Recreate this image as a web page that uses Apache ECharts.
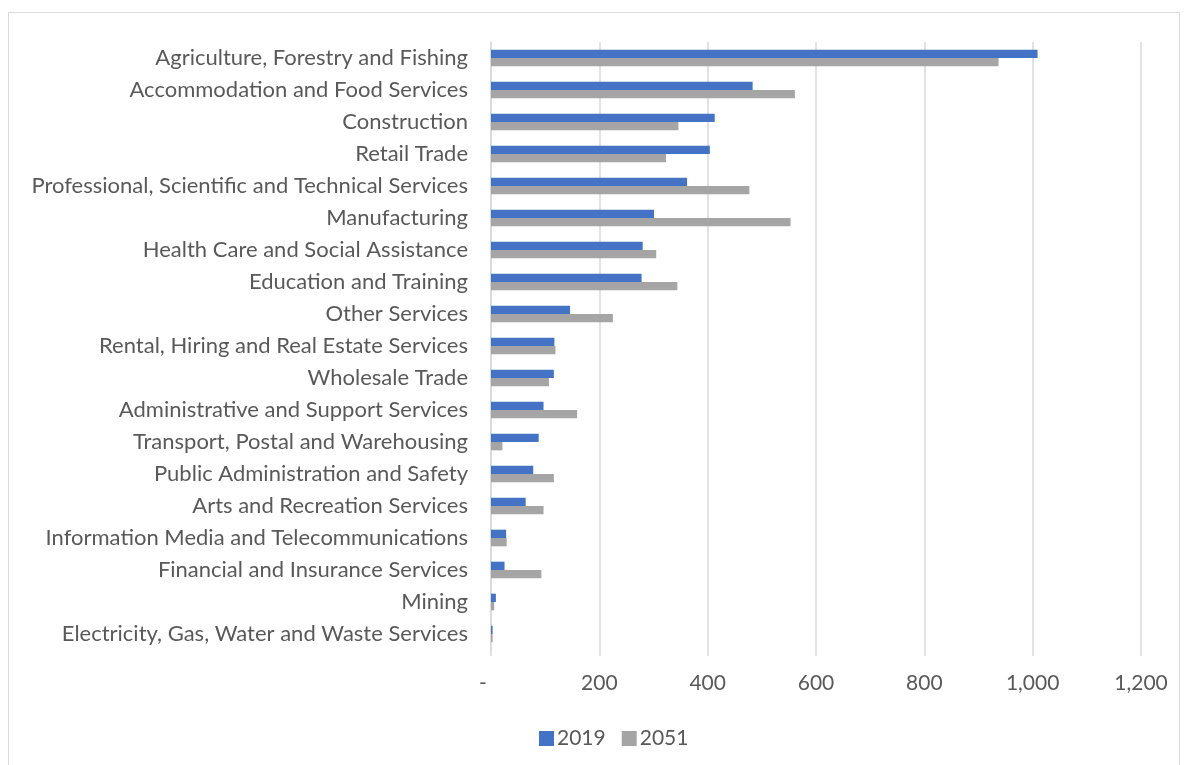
<!DOCTYPE html>
<html>
<head>
<meta charset="utf-8">
<script src="https://cdn.jsdelivr.net/npm/echarts@6/dist/echarts.min.js"></script>
<style>
  html, body { margin: 0; padding: 0; background: #fff; overflow: hidden; }
  #frame { position: absolute; left: 8px; top: 12px; width: 1172px; height: 780px; border: 1px solid #d9d9d9; box-sizing: border-box; }
  #chart { position: absolute; left: 0; top: 0; width: 1189px; height: 765px; }
</style>
</head>
<body>
<div id="frame"></div>
<div id="chart"></div>
<script>
// Industries, listed top to bottom
const industries = [
  'Agriculture, Forestry and Fishing',
  'Accommodation and Food Services',
  'Construction',
  'Retail Trade',
  'Professional, Scientific and Technical Services',
  'Manufacturing',
  'Health Care and Social Assistance',
  'Education and Training',
  'Other Services',
  'Rental, Hiring and Real Estate Services',
  'Wholesale Trade',
  'Administrative and Support Services',
  'Transport, Postal and Warehousing',
  'Public Administration and Safety',
  'Arts and Recreation Services',
  'Information Media and Telecommunications',
  'Financial and Insurance Services',
  'Mining',
  'Electricity, Gas, Water and Waste Services'
];

const values2019 = [1009, 483, 413, 404, 362, 301, 280, 278, 146, 117, 116, 97, 88, 78, 64, 28, 25, 9, 3];
const values2051 = [937, 561, 346, 323, 477, 553, 305, 344, 225, 119, 107, 159, 21, 116, 97, 29, 93, 6, 3];

const seriesNames = ['2019', '2051'];
const axisTicks = { min: 0, max: 1200, interval: 200 };

const FONT = 'Lato, "Open Sans", sans-serif';
const TEXT = '#595959';
const GRID = '#d9d9d9';

// accounting-style tick labels: zero shown as a dash
function fmtTick(v) {
  if (v === 0) return '-   ';
  return v.toLocaleString('en-US');
}

const chart = echarts.init(document.getElementById('chart'), null, { renderer: 'canvas' });
chart.setOption({
  animation: false,
  textStyle: { fontFamily: FONT },
  grid: { left: 491, right: 48, top: 42, bottom: 115, containLabel: false },
  legend: {
    data: seriesNames,
    left: 534,
    top: 723,
    itemWidth: 15,
    itemHeight: 15,
    itemGap: 16,
    icon: 'rect',
    textStyle: { fontFamily: FONT, fontSize: 21, color: TEXT, padding: [0, 0, 0, -2] }
  },
  xAxis: {
    type: 'value',
    min: axisTicks.min,
    max: axisTicks.max,
    interval: axisTicks.interval,
    axisLine: { show: false },
    axisTick: { show: true, length: 6, lineStyle: { color: GRID, width: 1.5 } },
    splitLine: { show: true, lineStyle: { color: GRID, width: 1.5 } },
    axisLabel: { formatter: fmtTick, color: TEXT, fontSize: 21, fontFamily: FONT, margin: 23 }
  },
  yAxis: {
    type: 'category',
    data: industries,
    inverse: true,
    axisLine: { show: true, lineStyle: { color: GRID, width: 1.5 } },
    axisTick: { show: false },
    axisLabel: { color: TEXT, fontSize: 22, fontFamily: FONT, margin: 23 }
  },
  series: [
    {
      name: seriesNames[0], type: 'bar', data: values2019,
      itemStyle: { color: '#4472c4' },
      barGap: '0%', barCategoryGap: '48%'
    },
    {
      name: seriesNames[1], type: 'bar', data: values2051,
      itemStyle: { color: '#a5a5a5' },
      barGap: '0%', barCategoryGap: '48%'
    }
  ]
});
</script>
</body>
</html>
